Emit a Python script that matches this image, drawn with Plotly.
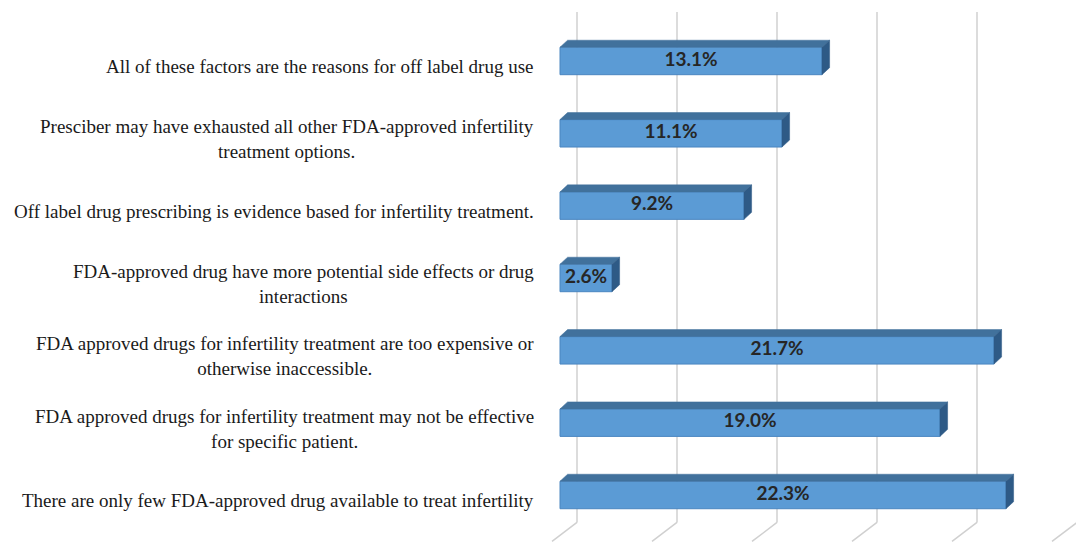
import plotly.graph_objects as go

# survey answers, bottom row first
reasons = [
    "There are only few FDA-approved drug available to treat infertility",
    "FDA approved drugs for infertility treatment may not be effective<br>for specific patient.",
    "FDA approved drugs for infertility treatment are too expensive or<br>otherwise inaccessible.",
    "FDA-approved drug have more potential side effects or drug<br>interactions",
    "Off label drug prescribing is evidence based for infertility treatment.",
    "Presciber may have exhausted all other FDA-approved infertility<br>treatment options.",
    "All of these factors are the reasons for off label drug use",
]
percent = [22.3, 19.0, 21.7, 2.6, 9.2, 11.1, 13.1]
grid_ticks = [0, 5, 10, 15, 20, 25]

# fake 3d look (Excel style), in axis units
bar_half = 0.19
depth_x, depth_y = 0.38, 0.097
wall_x = 0.85            # back wall offset of the gridlines
grid_top, grid_bottom = 6.677, -0.38
floor_dx, floor_dy = -1.25, -0.262

front_col = "#5B9BD5"
top_col = "#41719C"
side_col = "#2E5A86"

fig = go.Figure()

ypos = list(range(len(reasons)))

# front faces
fig.add_trace(go.Bar(
    x=percent, y=ypos, orientation="h", width=2 * bar_half,
    marker=dict(color=front_col, line=dict(color="#4A86C0", width=1)),
    hoverinfo="skip", showlegend=False,
))

# top and side faces of every bar
for v, y in zip(percent, ypos):
    yt, yb = y + bar_half, y - bar_half
    fig.add_trace(go.Scatter(
        x=[0, v, v + depth_x, depth_x, 0],
        y=[yt, yt, yt + depth_y, yt + depth_y, yt],
        fill="toself", fillcolor=top_col, mode="lines",
        line=dict(color=top_col, width=0.5),
        hoverinfo="skip", showlegend=False,
    ))
    fig.add_trace(go.Scatter(
        x=[v, v + depth_x, v + depth_x, v, v],
        y=[yt, yt + depth_y, yb + depth_y, yb, yt],
        fill="toself", fillcolor=side_col, mode="lines",
        line=dict(color=side_col, width=0.5),
        hoverinfo="skip", showlegend=False,
    ))

# value labels
fig.add_trace(go.Scatter(
    x=[v / 2 for v in percent], y=ypos, mode="text",
    text=[f"{v:.1f}%" for v in percent],
    textfont=dict(family="Lato", size=19, color="#262626", weight="bold"),
    hoverinfo="skip", showlegend=False,
))

# back wall gridlines with the slanted floor part
for t in grid_ticks:
    gx = t + wall_x
    fig.add_shape(type="line", xref="x", yref="y", x0=gx, x1=gx,
                  y0=grid_top, y1=grid_bottom, layer="below",
                  line=dict(color="#D0D0D0", width=1.5))
    fig.add_shape(type="line", xref="x", yref="y", x0=gx, x1=gx + floor_dx,
                  y0=grid_bottom, y1=grid_bottom + floor_dy, layer="below",
                  line=dict(color="#D0D0D0", width=1.5))

# category labels, centred lines like the original
for r, y in zip(reasons, ypos):
    fig.add_annotation(
        x=-1, y=y, xref="x", yref="y", text=r, showarrow=False,
        xanchor="right", yanchor="middle", align="center",
        xshift=-4, yshift=-6,
        font=dict(family="Liberation Serif", size=19, color="#1a1a1a"),
    )

# page body has an 8px margin; keep the page short enough for no scrollbar
fig.update_layout(
    width=1076, height=534,
    margin=dict(l=532, r=0, t=0, b=0),
    plot_bgcolor="white", paper_bgcolor="white",
    xaxis=dict(range=[-1, 26.2], visible=False, fixedrange=True),
    yaxis=dict(range=[-0.65, 6.732], visible=False, fixedrange=True),
)

fig.write_html("out.html")
